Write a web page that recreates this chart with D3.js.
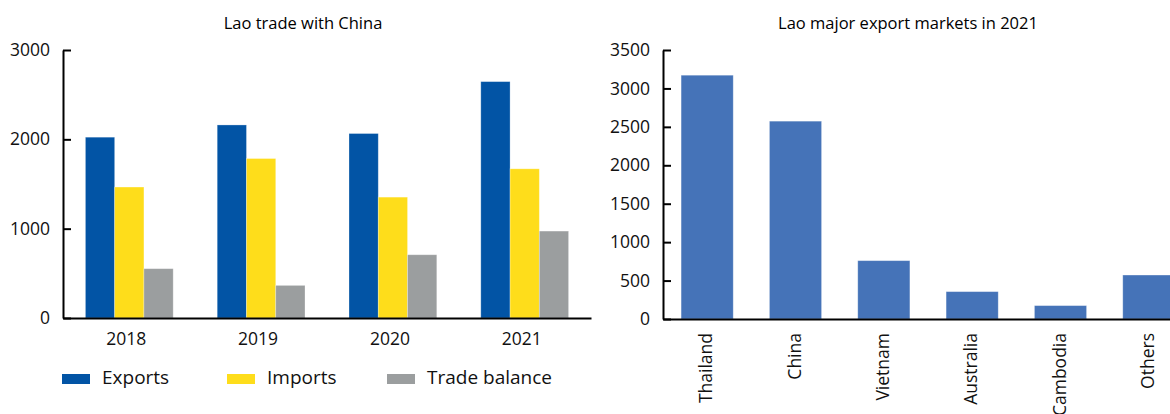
<!DOCTYPE html>
<html>
<head>
<meta charset="utf-8">
<script src="https://cdn.jsdelivr.net/npm/d3@7"></script>
<style>
  body { margin: 0; background: #fff; }
  svg { display: block; font-family: "Open Sans", "Noto Sans", sans-serif; }
  .domain, .tick line { stroke: #000; stroke-width: 2; }
  .tick text { fill: #111; }
</style>
</head>
<body>
<script>
// Left chart: Lao trade with China
const years = ["2018", "2019", "2020", "2021"];
const exportsToChina = [2024, 2161, 2065, 2646];
const importsFromChina = [1466, 1785, 1353, 1670];
const tradeBalance = [552, 365, 708, 973];
const seriesNames = ["Exports", "Imports", "Trade balance"];
const seriesColors = ["#0254a5", "#fedd1b", "#9b9e9f"];
const tradeTicks = [0, 1000, 2000, 3000];

// Right chart: Lao major export markets in 2021
const markets = ["Thailand", "China", "Vietnam", "Australia", "Cambodia", "Others"];
const marketExports = [3172, 2574, 759, 356, 174, 572];
const marketTicks = [0, 500, 1000, 1500, 2000, 2500, 3000, 3500];

const width = 1170;
const height = 414;

const svg = d3.select("body")
  .append("svg")
  .attr("width", width)
  .attr("height", height);

drawTradeChart();
drawMarketsChart();

// d3 axes set their own font; drop it so the svg font is used
function plainAxis(a, size) {
  a.attr("font-family", null).attr("font-size", null);
  a.selectAll("text").style("font-size", size);
}

function drawTradeChart() {
  const g = svg.append("g");
  const series = [exportsToChina, importsFromChina, tradeBalance];

  const x0 = d3.scaleBand()
    .domain(years)
    .range([63, 591])
    .paddingInner(0.334)
    .paddingOuter(0.17);

  const x1 = d3.scaleBand()
    .domain(seriesNames)
    .range([0, x0.bandwidth()]);

  const y = d3.scaleLinear()
    .domain([0, 3000])
    .range([318, 50]);

  g.append("text")
    .attr("x", 303)
    .attr("y", 29)
    .attr("text-anchor", "middle")
    .style("font-size", "16.5px")
    .text("Lao trade with China");

  const groups = g.selectAll(".year")
    .data(years)
    .enter()
    .append("g")
    .attr("class", "year")
    .attr("transform", d => "translate(" + x0(d) + ",0)");

  groups.selectAll("rect")
    .data((d, i) => seriesNames.map((name, k) => ({ name: name, value: series[k][i], color: seriesColors[k] })))
    .enter()
    .append("rect")
    .attr("x", d => x1(d.name))
    .attr("y", d => y(d.value))
    .attr("width", x1.bandwidth())
    .attr("height", d => y(0) - y(d.value))
    .attr("fill", d => d.color)
    .attr("stroke", "rgba(255,255,255,0.35)")
    .attr("stroke-width", 0.8);

  g.append("g")
    .attr("transform", "translate(63,0)")
    .call(d3.axisLeft(y).tickValues(tradeTicks).tickFormat(d3.format("d"))
      .tickSizeInner(-8).tickSizeOuter(0).tickPadding(13))
    .call(a => plainAxis(a, "17.5px"));

  g.append("g")
    .attr("transform", "translate(0,318)")
    .call(d3.axisBottom(x0).tickSize(0).tickPadding(15))
    .call(a => plainAxis(a, "17.5px"))
    .call(a => a.selectAll("text").attr("dx", -3));

  // legend
  const legendX = [62, 227, 387];
  const legend = g.selectAll(".legend")
    .data(seriesNames)
    .enter()
    .append("g")
    .attr("class", "legend")
    .attr("transform", (d, i) => "translate(" + legendX[i] + ",374)");

  legend.append("rect")
    .attr("width", 28)
    .attr("height", 10)
    .attr("fill", (d, i) => seriesColors[i]);

  legend.append("text")
    .attr("x", 40)
    .attr("y", 10)
    .style("font-size", "19px")
    .attr("fill", "#111")
    .text(d => d);
}

function drawMarketsChart() {
  const g = svg.append("g");

  const x = d3.scaleBand()
    .domain(markets)
    .range([663, 1193])
    .paddingInner(0.41)
    .paddingOuter(0.205);

  const y = d3.scaleLinear()
    .domain([0, 3500])
    .range([319, 50]);

  g.append("text")
    .attr("x", 908)
    .attr("y", 29)
    .attr("text-anchor", "middle")
    .style("font-size", "16.5px")
    .text("Lao major export markets in 2021");

  g.selectAll(".bar")
    .data(markets)
    .enter()
    .append("rect")
    .attr("class", "bar")
    .attr("x", d => x(d))
    .attr("y", (d, i) => y(marketExports[i]))
    .attr("width", x.bandwidth())
    .attr("height", (d, i) => y(0) - y(marketExports[i]))
    .attr("fill", "#4573b8")
    .attr("stroke", "rgba(255,255,255,0.35)")
    .attr("stroke-width", 0.8);

  g.append("g")
    .attr("transform", "translate(663,0)")
    .call(d3.axisLeft(y).tickValues(marketTicks).tickFormat(d3.format("d"))
      .tickSizeInner(-8).tickSizeOuter(0).tickPadding(13))
    .call(a => plainAxis(a, "17.5px"));

  g.append("g")
    .attr("transform", "translate(0,319)")
    .call(d3.axisBottom(x).tickSize(0))
    .call(a => plainAxis(a, "17.5px"))
    .call(a => a.selectAll("text")
      .attr("transform", "rotate(-90)")
      .attr("x", -14)
      .attr("y", 0)
      .attr("dy", "0.3em")
      .attr("text-anchor", "end"));
}
</script>
</body>
</html>
